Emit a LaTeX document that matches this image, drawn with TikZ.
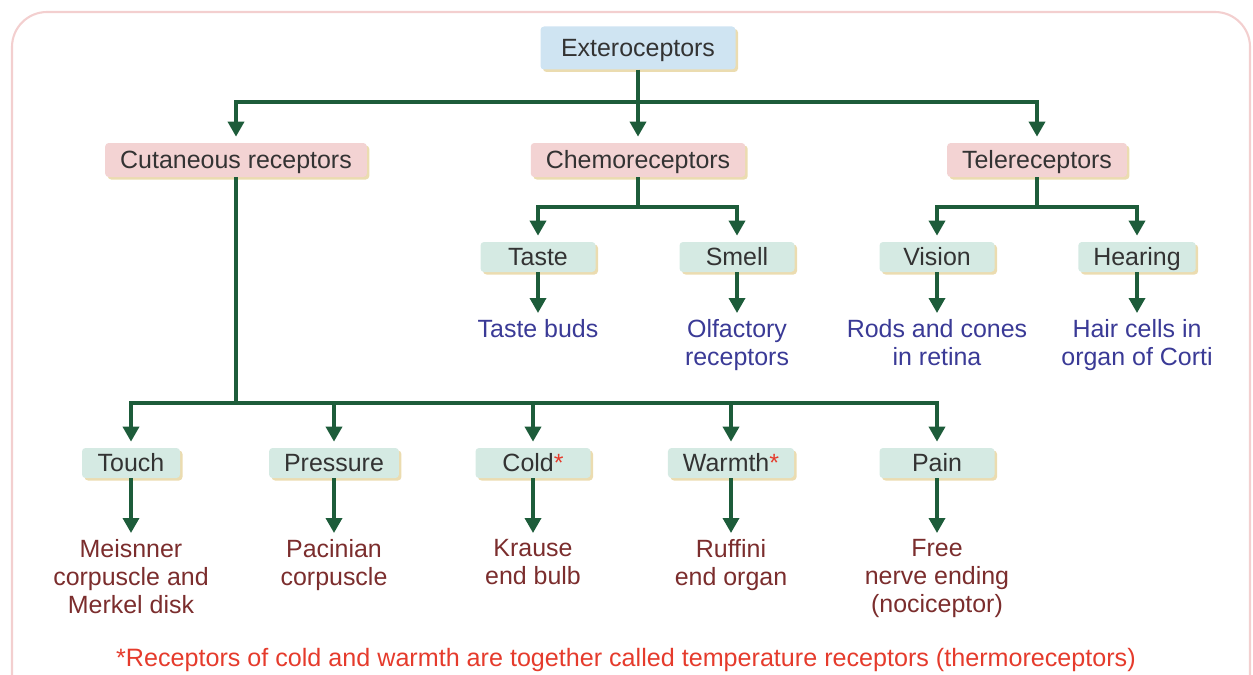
\documentclass[tikz,border=0pt]{standalone}
\usepackage{fontspec}
\setmainfont{Liberation Sans}
\usetikzlibrary{arrows.meta,shadows}
\definecolor{linkgreen}{HTML}{1D5C3A}
\definecolor{topfill}{HTML}{CFE4F2}
\definecolor{pinkfill}{HTML}{F3D3D3}
\definecolor{tealfill}{HTML}{D5EAE3}
\definecolor{shadowtan}{HTML}{EBDCB0}
\definecolor{boxtext}{HTML}{333333}
\definecolor{leafblue}{HTML}{3A3A96}
\definecolor{leafred}{HTML}{7B2D2D}
\definecolor{notered}{HTML}{E53B2C}
\definecolor{framepink}{HTML}{F3CFCF}
\tikzset{
  box/.style={rounded corners=2pt, text=boxtext, font=\fontsize{14.2}{17}\selectfont,
    inner xsep=0.3cm, inner ysep=0pt, text height=11.5pt, text depth=2pt,
    drop shadow={shadow xshift=0.05cm, shadow yshift=-0.05cm, fill=shadowtan, opacity=1}},
  headbox/.style={box, fill=topfill, minimum width=3.9cm, minimum height=0.86cm},
  groupbox/.style={box, fill=pinkfill, minimum height=0.68cm},
  sensebox/.style={box, fill=tealfill, minimum width=2.3cm, minimum height=0.6cm},
  leaf/.style={align=center, inner sep=0pt, anchor=north, font=\fontsize{14.2}{15.9}\selectfont},
  link/.style={draw=linkgreen, line width=2pt},
  arrow/.style={link, -{Triangle[width=0.32cm,length=0.3cm]}, shorten >=0.12cm},
}
\begin{document}
\begin{tikzpicture}[x=0.2mm,y=-0.2mm]
\useasboundingbox (0,0) rectangle (1253,675);
\draw[framepink, line width=1.2pt, rounded corners=0.7cm] (12,12) rectangle (1250,740);

% top level
\node[headbox] (ext) at (638,48) {Exteroceptors};
\node[groupbox] (cut) at (236,160) {Cutaneous receptors};
\node[groupbox] (chemo) at (638,160) {Chemoreceptors};
\node[groupbox] (tele) at (1037,160) {Telereceptors};

\coordinate (f1) at (638,102);
\draw[arrow] (ext) -- (chemo);
\draw[arrow] (f1) -| (cut);
\draw[arrow] (f1) -| (tele);

% chemoreceptors and telereceptors
\node[sensebox] (taste) at (538,257) {Taste};
\node[sensebox] (smell) at (737,257) {Smell};
\node[sensebox] (vision) at (937,257) {Vision};
\node[sensebox] (hearing) at (1137,257) {Hearing};

\coordinate (f2) at (638,207);
\coordinate (f3) at (1037,207);
\draw[link] (chemo) -- (f2);
\draw[link] (tele) -- (f3);
\draw[arrow] (f2) -| (taste);
\draw[arrow] (f2) -| (smell);
\draw[arrow] (f3) -| (vision);
\draw[arrow] (f3) -| (hearing);

\node[leaf, text=leafblue] (buds) at (538,319) {Taste buds};
\node[leaf, text=leafblue] (olf) at (737,319) {Olfactory\\receptors};
\node[leaf, text=leafblue] (rods) at (937,319) {Rods and cones\\in retina};
\node[leaf, text=leafblue] (hair) at (1137,319) {Hair cells in\\organ of Corti};

\draw[arrow] (taste) -- (buds);
\draw[arrow] (smell) -- (olf);
\draw[arrow] (vision) -- (rods);
\draw[arrow] (hearing) -- (hair);

% cutaneous receptors
\node[sensebox, minimum width=1.96cm] (touch) at (131,463) {Touch};
\node[sensebox] (pressure) at (334,463) {Pressure};
\node[sensebox] (cold) at (533,463) {Cold\textcolor{notered}{*}};
\node[sensebox] (warmth) at (731,463) {Warmth\textcolor{notered}{*}};
\node[sensebox] (pain) at (937,463) {Pain};

\coordinate (f4) at (236,403);
\draw[link] (cut) -- (f4);
\foreach \n in {touch,pressure,cold,warmth,pain}
  \draw[arrow] (f4) -| (\n);

\node[leaf, text=leafred] (meis) at (131,539) {Meisnner\\corpuscle and\\Merkel disk};
\node[leaf, text=leafred] (pac) at (334,539) {Pacinian\\corpuscle};
\node[leaf, text=leafred] (krause) at (533,539) {Krause\\end bulb};
\node[leaf, text=leafred] (ruff) at (731,539) {Ruffini\\end organ};
\node[leaf, text=leafred] (free) at (937,539) {Free\\nerve ending\\(nociceptor)};

\draw[arrow] (touch) -- (meis);
\draw[arrow] (pressure) -- (pac);
\draw[arrow] (cold) -- (krause);
\draw[arrow] (warmth) -- (ruff);
\draw[arrow] (pain) -- (free);

\node[text=notered, font=\fontsize{14.3}{16}\selectfont] (note) at (626,660)
  {*Receptors of cold and warmth are together called temperature receptors (thermoreceptors)};
\end{tikzpicture}
\end{document}
